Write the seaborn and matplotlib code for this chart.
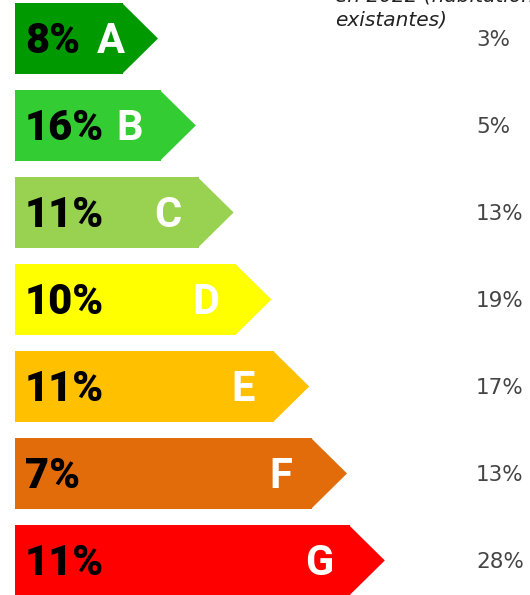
import matplotlib
matplotlib.use("Agg")
import matplotlib.pyplot as plt
from matplotlib.patches import Polygon
import seaborn as sns
import pandas as pd

# Energy classes (DPE) and shares
classes = ["A", "B", "C", "D", "E", "F", "G"]
share_left = [8, 16, 11, 10, 11, 7, 11]
share_right = [3, 5, 13, 19, 17, 13, 28]
colors = ["#009a00", "#33cc33", "#99d150", "#ffff00", "#ffc000", "#e36c0a", "#ff0000"]

sns.set_theme(style="white")
plt.rcParams["font.family"] = ["Roboto", "DejaVu Sans"]

# arrow lengths grow by class (label shape, not data)
df = pd.DataFrame({"classe": classes,
                   "longueur": [108 + 37.8 * i for i in range(len(classes))]})

fig = plt.figure(figsize=(5.3, 5.95), dpi=100)
ax = fig.add_axes([0, 0, 1, 1])
sns.barplot(data=df, x="longueur", y="classe", hue="classe", palette=colors,
            width=0.816, legend=False, ax=ax, saturation=1, linewidth=0)

ax.set_xlim(-15, 515)
ax.set_ylim(6.397, -0.4425)
ax.axis("off")

tip = 35
for i, (bar, c) in enumerate(zip(ax.patches, colors)):
    bar.set_edgecolor("none")
    x1 = bar.get_x() + bar.get_width()
    y0 = bar.get_y()
    yc = y0 + bar.get_height() / 2
    ax.add_patch(Polygon([[x1 - 1, y0], [x1 + tip, yc], [x1 - 1, y0 + bar.get_height()]],
                         closed=True, facecolor=c, edgecolor="none", lw=0))
    ax.text(10, yc + 0.172, f"{share_left[i]}%", fontsize=30, fontweight="black",
            color="black", va="baseline", ha="left")
    ax.text(max(x1 - 31, 96), yc + 0.172, classes[i], fontsize=30, fontweight="bold",
            color="white", va="baseline", ha="center")
    ax.text(461, yc + 0.09, f"{share_right[i]}%", fontsize=15.5, color="#444444",
            va="baseline", ha="left", family="DejaVu Sans")

fig.text(335 / 530, 1 - 26 / 595, "en 2022 (habitations\nexistantes)", fontsize=14.5,
         style="italic", color="#222222", ha="left", va="baseline", linespacing=1.35,
         family="DejaVu Sans")

fig.savefig("out.png", dpi=100)
